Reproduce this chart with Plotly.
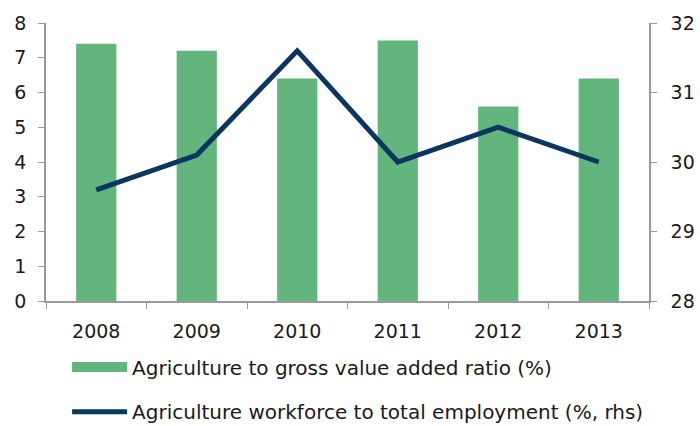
import plotly.graph_objects as go

years = ["2008", "2009", "2010", "2011", "2012", "2013"]
gva_ratio = [7.4, 7.2, 6.4, 7.5, 5.6, 6.4]
workforce_share = [29.6, 30.1, 31.6, 30.0, 30.5, 30.0]

bar_name = "Agriculture to gross value added ratio (%)"
line_name = "Agriculture workforce to total employment (%, rhs)"

font_family = "DejaVu Sans"
axis_grey = "#9a9a9a"
text_col = "#1a1a1a"
bar_green = "#62B57D"
line_navy = "#0B3660"

fig = go.Figure()
fig.add_trace(go.Bar(
    x=years, y=gva_ratio, name=bar_name,
    marker=dict(color=bar_green, line=dict(width=0)),
    width=0.4, showlegend=False,
))
fig.add_trace(go.Scatter(
    x=years, y=workforce_share, name=line_name, yaxis="y2",
    mode="lines", line=dict(color=line_navy, width=5),
    legend="legend2", showlegend=True,
))
# legend key for the bars: a wide flat swatch in the bar colour
fig.add_trace(go.Scatter(
    x=[None], y=[None], name=bar_name, mode="lines",
    line=dict(color=bar_green, width=10),
    legend="legend", showlegend=True, hoverinfo="skip",
))

tickfont = dict(family=font_family, size=19, color=text_col)

fig.update_layout(
    width=700, height=426,
    margin=dict(l=46, r=51, t=23, b=125, autoexpand=False),
    paper_bgcolor="white", plot_bgcolor="white",
    font=dict(family=font_family, size=19, color=text_col),
    showlegend=True,
    xaxis=dict(
        showline=True, linecolor=axis_grey, linewidth=1.5,
        ticks="outside", tickson="boundaries", ticklen=6, tickcolor=axis_grey,
        tickfont=tickfont, showgrid=False, zeroline=False,
        ticklabelstandoff=12,
    ),
    yaxis=dict(
        range=[0, 8], dtick=1, showline=True, linecolor=axis_grey, linewidth=1.5,
        ticks="outside", ticklen=6, tickcolor=axis_grey, tickfont=tickfont,
        showgrid=False, zeroline=False, ticklabelstandoff=8,
    ),
    yaxis2=dict(
        range=[28, 32], dtick=1, overlaying="y", side="right",
        showline=True, linecolor=axis_grey, linewidth=1.5,
        ticks="outside", ticklen=6, tickcolor=axis_grey, tickfont=tickfont,
        showgrid=False, zeroline=False, ticklabelstandoff=10,
    ),
    legend=dict(
        x=0.035, y=-0.237, xanchor="left", yanchor="middle",
        orientation="h", itemwidth=55, font=dict(size=20),
        bgcolor="rgba(0,0,0,0)",
    ),
    legend2=dict(
        x=0.035, y=-0.398, xanchor="left", yanchor="middle",
        orientation="h", itemwidth=55, font=dict(size=20),
        bgcolor="rgba(0,0,0,0)",
    ),
)

fig.write_html("out.html")
